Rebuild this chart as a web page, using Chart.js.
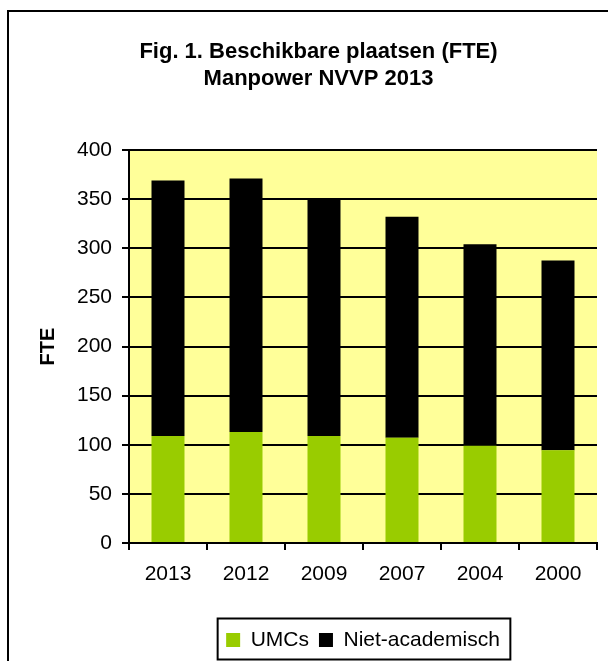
<!DOCTYPE html>
<html>
<head>
<meta charset="utf-8">
<script src="https://cdn.jsdelivr.net/npm/chart.js@4"></script>
<style>
  html, body { margin: 0; padding: 0; background: #fff; }
  canvas { display: block; }
</style>
</head>
<body>
<canvas id="chart" width="608" height="661"></canvas>
<script>
// data
const years = ['2013', '2012', '2009', '2007', '2004', '2000'];
const umcs = [109, 113, 109, 107, 99, 94.5];
const nietAcademisch = [260, 258, 241, 225, 205, 193];
const titleLines = ['Fig. 1. Beschikbare plaatsen (FTE)', 'Manpower NVVP 2013'];
const yAxisTitle = 'FTE';
const yMin = 0, yMax = 400, yStep = 50;

const FONT = '"Liberation Sans", Arial, sans-serif';

// white page, yellow plot area, outer chart frame and legend frame
const excelLook = {
    id: 'excelLook',
    afterLayout(chart) {
        chart.titleBlock.left += 20;
        chart.titleBlock.right += 20;
    },
    beforeDraw(chart) {
        const c = chart.ctx, a = chart.chartArea;
        c.save();
        c.fillStyle = '#fff';
        c.fillRect(0, 0, chart.width, chart.height);
        c.fillStyle = '#ffff99';
        c.fillRect(a.left, a.top, a.right - a.left, a.bottom - a.top);
        c.strokeStyle = '#000';
        c.lineWidth = 2;
        c.strokeRect(8, 11, 700, 700);
        c.restore();
    },
    afterDraw(chart) {
        const boxes = chart.legend.legendHitBoxes;
        if (!boxes || !boxes.length) return;
        const first = boxes[0], last = boxes[boxes.length - 1];
        const c = chart.ctx;
        const left = first.left - 8.5;
        const right = last.left + last.width + 10.5;
        c.save();
        c.strokeStyle = '#000';
        c.lineWidth = 2;
        c.strokeRect(left, first.top - 11, right - left, first.height + 20);
        c.restore();
    }
};

new Chart(document.getElementById('chart'), {
    type: 'bar',
    data: {
        labels: years,
        datasets: [
            { label: 'UMCs', data: umcs, backgroundColor: '#99cc00', borderColor: '#99cc00', borderWidth: 0 },
            { label: 'Niet-academisch', data: nietAcademisch, backgroundColor: '#000000', borderColor: '#000000', borderWidth: 0 }
        ]
    },
    options: {
        responsive: false,
        animation: false,
        devicePixelRatio: 1,
        categoryPercentage: 1,
        barPercentage: 0.423,
        layout: { padding: { top: 12, left: 0, right: 11, bottom: 0.5 } },
        plugins: {
            title: {
                display: true,
                text: titleLines,
                color: '#000',
                font: { family: FONT, size: 22, weight: 'bold', lineHeight: '27px' },
                padding: { top: 26, bottom: 58 }
            },
            legend: {
                position: 'bottom',
                fullSize: false,
                labels: {
                    color: '#000',
                    font: { family: FONT, size: 21 },
                    boxWidth: 14,
                    boxHeight: 14,
                    padding: 10
                }
            },
            tooltip: { enabled: false }
        },
        scales: {
            x: {
                stacked: true,
                afterFit(s) { s.height = 76.5; },
                grid: { offset: true, drawOnChartArea: false, color: '#000', lineWidth: 2, tickLength: 7 },
                border: { color: '#000', width: 2 },
                ticks: { color: '#000', font: { family: FONT, size: 21 }, padding: 11.5, maxRotation: 0, autoSkip: false }
            },
            y: {
                stacked: true,
                min: yMin,
                max: yMax,
                afterFit(s) { s.width = 129; },
                grid: { color: '#000', lineWidth: 2, tickLength: 7 },
                border: { color: '#000', width: 2 },
                ticks: { stepSize: yStep, color: '#000', font: { family: FONT, size: 21 }, padding: 10 },
                title: {
                    display: true,
                    text: yAxisTitle,
                    color: '#000',
                    font: { family: FONT, size: 20, weight: 'bold' },
                    padding: { top: 36.5, bottom: 0 }
                }
            }
        }
    },
    plugins: [excelLook]
});
</script>
</body>
</html>
